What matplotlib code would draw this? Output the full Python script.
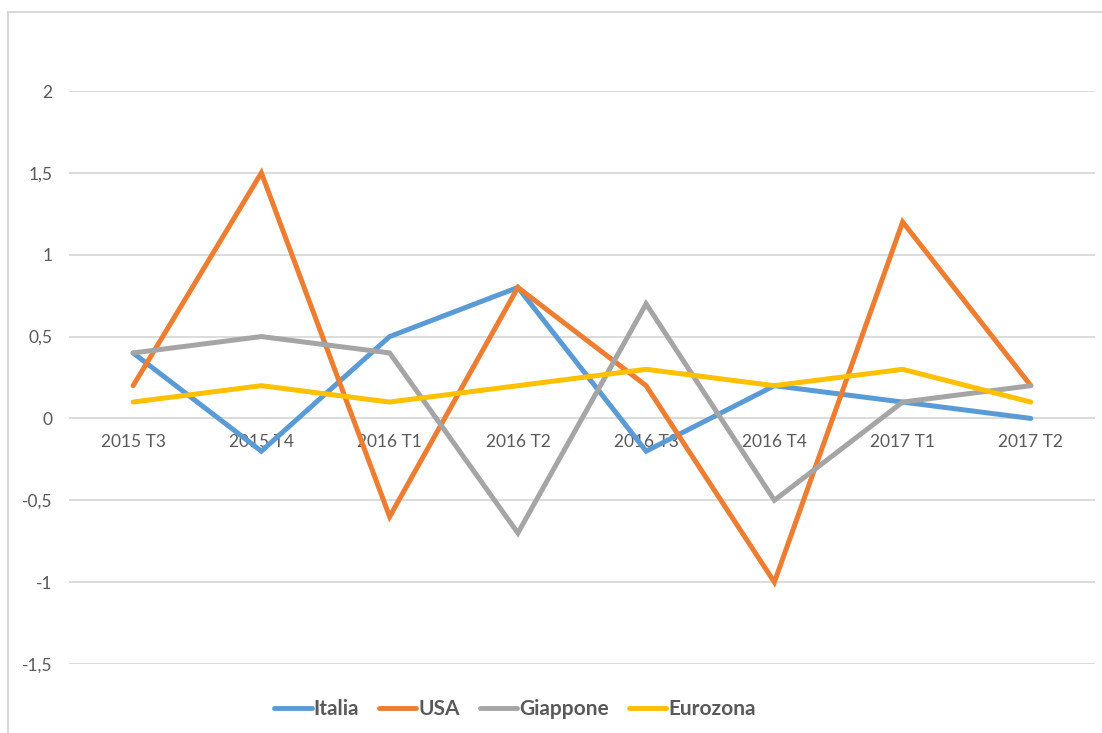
import matplotlib.pyplot as plt
from matplotlib.lines import Line2D
from matplotlib.ticker import FuncFormatter
import numpy as np

trimestri = ["2015 T3", "2015 T4", "2016 T1", "2016 T2",
             "2016 T3", "2016 T4", "2017 T1", "2017 T2"]
italia = [0.4, -0.2, 0.5, 0.8, -0.2, 0.2, 0.1, 0.0]
usa = [0.2, 1.5, -0.6, 0.8, 0.2, -1.0, 1.2, 0.2]
giappone = [0.4, 0.5, 0.4, -0.7, 0.7, -0.5, 0.1, 0.2]
eurozona = [0.1, 0.2, 0.1, 0.2, 0.3, 0.2, 0.3, 0.1]

serie = [("Italia", italia, "#5B9BD5"),
         ("USA", usa, "#ED7D31"),
         ("Giappone", giappone, "#A5A5A5"),
         ("Eurozona", eurozona, "#FFC000")]

plt.rcParams['font.family'] = ['Lato', 'DejaVu Sans']
W, H = 1102, 733
fig = plt.figure(figsize=(W / 100, H / 100), dpi=100)

# bordo del grafico (solo sinistra e sopra)
grey = "#D9D9D9"
fig.add_artist(Line2D([8 / W, 8 / W], [0, 1 - 12 / H], color=grey, lw=1.5))
fig.add_artist(Line2D([8 / W, 1], [1 - 12 / H, 1 - 12 / H], color=grey, lw=1.5))

ax = fig.add_axes([69 / W, (H - 664) / H, (1095 - 69) / W, (664 - 91) / H])
x = np.arange(len(trimestri))

for nome, valori, col in serie:
    ax.plot(x, valori, color=col, lw=3.6, label=nome,
            solid_capstyle='round', solid_joinstyle='miter', zorder=3)

ax.set_xlim(-0.5, len(trimestri) - 0.5)
ax.set_ylim(-1.5, 2.0)
ax.set_yticks(np.arange(-1.5, 2.01, 0.5))
ax.yaxis.set_major_formatter(FuncFormatter(lambda v, p: f"{v:g}".replace(".", ",")))
ax.grid(axis='y', color=grey, lw=1.3, zorder=0)
ax.set_xticks([])
ax.tick_params(axis='y', length=0, pad=12, labelsize=12.5, labelcolor="#595959")
for s in ax.spines.values():
    s.set_visible(False)

# etichette delle categorie sotto la linea dello zero
for i, lab in enumerate(trimestri):
    ax.annotate(lab, (i, 0), xytext=(0, -11), textcoords='offset points',
                ha='center', va='top', fontsize=12.5, color="#595959", zorder=1)

leg = fig.legend(loc='center', bbox_to_anchor=(515 / W, 1 - 709 / H), ncol=4,
                 frameon=False, handlelength=1.8, handletextpad=0.1,
                 columnspacing=0.95, prop={'size': 15, 'weight': 'bold'})
for t in leg.get_texts():
    t.set_color("#595959")
for h in leg.legend_handles:
    h.set_linewidth(3.5)
    h.set_solid_capstyle('round')

fig.savefig("out.png", dpi=100)
